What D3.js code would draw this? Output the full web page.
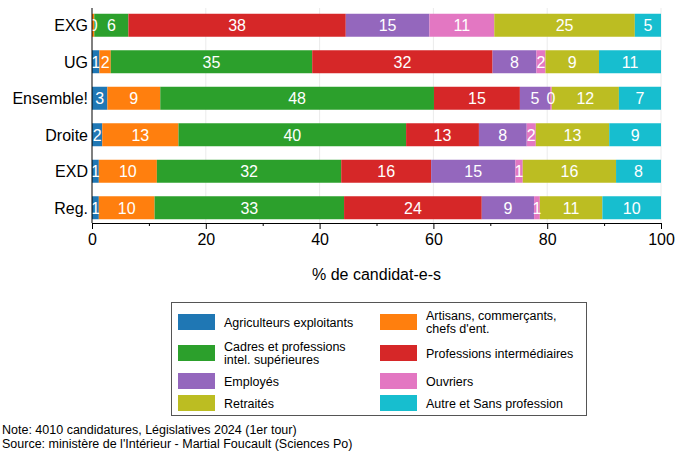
<!DOCTYPE html>
<html>
<head>
<meta charset="utf-8">
<script src="https://d3js.org/d3.v7.min.js"></script>
<style>
    body { margin: 0; background: #fff; font-family: 'Liberation Sans', Arial, sans-serif; }
    svg { display: block; }
</style>
</head>
<body>
<div id="chart"></div>
<script>
    // parties, top to bottom
    var categories = ["EXG", "UG", "Ensemble!", "Droite", "EXD", "Reg."];

    // % of candidates per socio-professional group (one array per group)
    var agriculteurs = [0, 1.3, 2.7, 1.8, 1.2, 1.2];
    var artisans     = [0.4, 2.0, 9.3, 13.4, 10.2, 9.8];
    var cadres       = [6.0, 35.4, 48.1, 40.0, 32.4, 33.3];
    var intermed     = [38.2, 31.7, 15.1, 12.8, 15.8, 24.2];
    var employes     = [14.7, 7.7, 5.3, 8.4, 14.8, 9.2];
    var ouvriers     = [11.4, 1.6, 0.3, 1.6, 1.3, 1.0];
    var retraites    = [24.7, 9.4, 11.8, 12.9, 16.4, 11.0];
    var autres       = [4.6, 10.9, 7.4, 9.1, 7.9, 10.3];

    var seriesNames = [
        "Agriculteurs exploitants",
        "Artisans, commerçants,\nchefs d'ent.",
        "Cadres et professions\nintel. supérieures",
        "Professions intermédiaires",
        "Employés",
        "Ouvriers",
        "Retraités",
        "Autre et Sans profession"
    ];
    var colors = ["#1f77b4", "#ff7f0e", "#2ca02c", "#d62728", "#9467bd", "#e377c2", "#bcbd22", "#17becf"];
    var xTicks = [0, 20, 40, 60, 80, 100];
    var xMinorTicks = [10, 30, 50, 70, 90];

    var seriesValues = [agriculteurs, artisans, cadres, intermed, employes, ouvriers, retraites, autres];

    var width = 680, height = 453;
    var svg = d3.select("#chart").append("svg")
        .attr("width", width)
        .attr("height", height);

    var x = d3.scaleLinear().domain([0, 100]).range([92, 661]);
    var y = d3.scaleBand().domain(categories).range([7, 226])
        .paddingInner(0.37).paddingOuter(0.185);
    var axisY = 223;

    // build rows for the stack
    var rows = categories.map(function(c, i) {
        var r = {cat: c};
        seriesNames.forEach(function(s, j) { r[j] = seriesValues[j][i]; });
        return r;
    });
    var stack = d3.stack().keys(d3.range(seriesNames.length))(rows);

    // grid
    svg.append("g").selectAll("line")
        .data(xTicks.slice(1))
        .enter().append("line")
        .attr("x1", function(d) { return x(d); })
        .attr("x2", function(d) { return x(d); })
        .attr("y1", 8).attr("y2", axisY)
        .attr("stroke", "#ebebeb")
        .attr("stroke-width", 1);

    // bars
    var layers = svg.append("g").selectAll("g")
        .data(stack)
        .enter().append("g")
        .attr("fill", function(d, i) { return colors[i]; });

    layers.selectAll("rect")
        .data(function(d) { return d; })
        .enter().append("rect")
        .attr("x", function(d) { return x(d[0]); })
        .attr("width", function(d) { return x(d[1]) - x(d[0]); })
        .attr("y", function(d) { return y(d.data.cat); })
        .attr("height", y.bandwidth());

    // value labels
    var labels = svg.append("g")
        .attr("font-size", "16px")
        .attr("fill", "#fff")
        .attr("text-anchor", "middle");
    stack.forEach(function(layer) {
        layer.forEach(function(d) {
            var v = d[1] - d[0];
            if (v <= 0) return;
            labels.append("text")
                .attr("x", x((d[0] + d[1]) / 2))
                .attr("y", y(d.data.cat) + y.bandwidth() / 2)
                .attr("dy", "0.36em")
                .text(Math.round(v));
        });
    });

    // y axis
    svg.append("line")
        .attr("x1", x(0)).attr("x2", x(0))
        .attr("y1", 8).attr("y2", axisY)
        .attr("stroke", "#000");
    svg.append("g").selectAll("text")
        .data(categories)
        .enter().append("text")
        .attr("x", x(0) - 4)
        .attr("y", function(d) { return y(d) + y.bandwidth() / 2; })
        .attr("dy", "0.36em")
        .attr("text-anchor", "end")
        .attr("font-size", "16px")
        .text(function(d) { return d; });

    // x axis
    var xaxis = d3.axisBottom(x).tickValues(xTicks).tickSize(6).tickPadding(5);
    var gx = svg.append("g")
        .attr("transform", "translate(0," + axisY + ")")
        .call(xaxis);
    gx.select(".domain").attr("d", "M" + x(0) + ",0.5H" + x(100));
    gx.selectAll("text").attr("font-size", "16px").attr("font-family", "'Liberation Sans', Arial, sans-serif");
    gx.selectAll(".minor")
        .data(xMinorTicks)
        .enter().append("line")
        .attr("class", "minor")
        .attr("x1", function(d) { return x(d) + 0.5; })
        .attr("x2", function(d) { return x(d) + 0.5; })
        .attr("y1", 0).attr("y2", 3)
        .attr("stroke", "#000");

    svg.append("text")
        .attr("x", (x(0) + x(100)) / 2)
        .attr("y", 274)
        .attr("dy", "0.36em")
        .attr("text-anchor", "middle")
        .attr("font-size", "16px")
        .text("% de candidat-e-s");

    // legend
    var legend = svg.append("g");
    legend.append("rect")
        .attr("x", 171.5).attr("y", 302.5)
        .attr("width", 415).attr("height", 113)
        .attr("fill", "#fff")
        .attr("stroke", "#555");
    var rowY = [322, 353, 381, 403];
    var colX = [178, 380];
    seriesNames.forEach(function(name, i) {
        var cx = colX[i % 2], cy = rowY[Math.floor(i / 2)];
        legend.append("rect")
            .attr("x", cx).attr("y", cy - 8)
            .attr("width", 37).attr("height", 16)
            .attr("fill", colors[i]);
        var lines = name.split("\n");
        var t = legend.append("text")
            .attr("x", cx + 46)
            .attr("y", cy - (lines.length - 1) * 6.5)
            .attr("font-size", "12.5px");
        lines.forEach(function(l, k) {
            t.append("tspan")
                .attr("x", cx + 46)
                .attr("dy", k === 0 ? "0.36em" : "13px")
                .text(l);
        });
    });

    // footnote
    svg.append("text").attr("x", 2).attr("y", 434).attr("font-size", "12.5px")
        .text("Note: 4010 candidatures, Législatives 2024 (1er tour)");
    svg.append("text").attr("x", 2).attr("y", 448).attr("font-size", "12.5px")
        .text("Source: ministère de l'Intérieur - Martial Foucault (Sciences Po)");
</script>
</body>
</html>
